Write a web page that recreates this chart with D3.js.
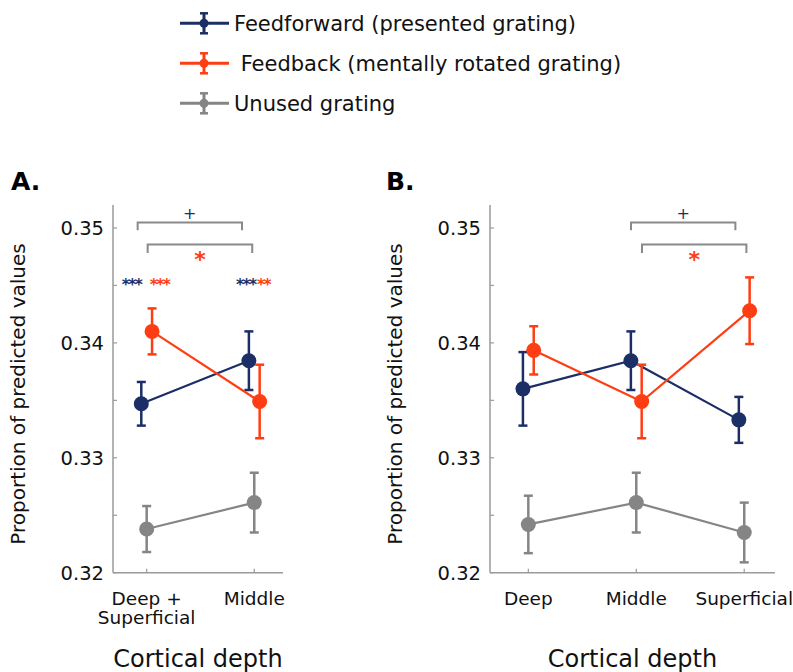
<!DOCTYPE html>
<html>
<head>
<meta charset="utf-8">
<script src="https://cdn.jsdelivr.net/npm/d3@7"></script>
<style>
  body { margin: 0; background: #fff; }
  svg { display: block; font-family: "DejaVu Sans", sans-serif; }
</style>
</head>
<body>
<svg width="793" height="672"></svg>
<script>
// ---- data ----
var seriesNames = ['Feedforward (presented grating)', ' Feedback (mentally rotated grating)', 'Unused grating'];
var seriesColors = ['#1b2f66', '#ff3d12', '#858585'];
var seriesOffset = [-0.05, 0.05, 0];

var depthsA = [['Deep +', 'Superficial'], ['Middle']];
var ffA = [0.3347, 0.33845], ffErrA = [0.0019, 0.00255];
var fbA = [0.3410, 0.3349], fbErrA = [0.0020, 0.0032];
var unA = [0.3238, 0.3261], unErrA = [0.0020, 0.0026];

var depthsB = [['Deep'], ['Middle'], ['Superficial']];
var ffB = [0.3360, 0.33845, 0.3333], ffErrB = [0.0032, 0.00255, 0.0020];
var fbB = [0.33935, 0.3349, 0.3428], fbErrB = [0.0021, 0.0032, 0.0029];
var unB = [0.3242, 0.3261, 0.3235], unErrB = [0.0025, 0.0026, 0.0026];

var yTicks = [0.32, 0.33, 0.34, 0.35];
var yMinorTicks = [0.325, 0.335, 0.345];

// significance marks per panel
var starsA = [
    { x: 0.86, y: 0.34537, text: '***', c: 0 },
    { x: 1.12, y: 0.34537, text: '***', c: 1 },
    { x: 1.92, y: 0.34537, text: '***', c: 0 },
    { x: 2.085, y: 0.34537, text: '**', c: 1 }
];
var bracketsA = [
    { x1: 0.916, x2: 1.886, y: 0.35047, leg: 0.3498, mark: '+', c: 0 },
    { x1: 1.009, x2: 1.981, y: 0.34856, leg: 0.34783, mark: '*', c: 1 }
];
var bracketsB = [
    { x1: 1.951, x2: 2.918, y: 0.35047, leg: 0.3498, mark: '+', c: 0 },
    { x1: 2.053, x2: 3.020, y: 0.34856, leg: 0.34783, mark: '*', c: 1 }
];

var svg = d3.select('svg');
var axisColor = '#9a9a9a';
var plotTop = 205, plotBottom = 572.7;

function drawPanel(opts) {
    var x = d3.scaleLinear().domain(opts.xDomain).range(opts.xRange);
    var y = d3.scaleLinear().domain([0.32, 0.352]).range([plotBottom, plotTop]);
    var g = svg.append('g');

    // axes lines
    g.append('line').attr('x1', opts.xRange[0]).attr('x2', opts.xRange[0])
        .attr('y1', plotTop).attr('y2', plotBottom)
        .attr('stroke', axisColor).attr('stroke-width', 1.5);
    g.append('line').attr('x1', opts.xRange[0]).attr('x2', opts.xRange[1])
        .attr('y1', plotBottom).attr('y2', plotBottom)
        .attr('stroke', axisColor).attr('stroke-width', 1.5);

    // y ticks (inward)
    g.selectAll('.yt').data(yTicks.concat(yMinorTicks)).enter().append('line')
        .attr('x1', opts.xRange[0]).attr('x2', opts.xRange[0] + 4)
        .attr('y1', function (d) { return y(d); }).attr('y2', function (d) { return y(d); })
        .attr('stroke', axisColor).attr('stroke-width', 1.2);
    g.selectAll('.yl').data(yTicks).enter().append('text')
        .attr('x', opts.xRange[0] - 9)
        .attr('y', function (d) { return y(d) + 7; })
        .attr('text-anchor', 'end')
        .attr('font-size', 19.5)
        .attr('fill', '#111')
        .text(function (d) { return d.toFixed(2); });

    // x ticks
    var idx = opts.labels.map(function (d, i) { return i + 1; });
    g.selectAll('.xt').data(idx).enter().append('line')
        .attr('x1', function (d) { return x(d); }).attr('x2', function (d) { return x(d); })
        .attr('y1', plotBottom).attr('y2', plotBottom - 4)
        .attr('stroke', axisColor).attr('stroke-width', 1.2);
    var xl = g.selectAll('.xl').data(opts.labels).enter().append('text')
        .attr('text-anchor', 'middle')
        .attr('font-size', 18.5)
        .attr('fill', '#111');
    xl.each(function (lines, i) {
        d3.select(this).selectAll('tspan').data(lines).enter().append('tspan')
            .attr('x', x(i + 1))
            .attr('y', function (d, j) { return 605 + j * 18.5; })
            .text(function (d) { return d; });
    });

    // axis titles
    g.append('text')
        .attr('x', (opts.xRange[0] + opts.xRange[1]) / 2).attr('y', 667)
        .attr('text-anchor', 'middle').attr('font-size', 24).attr('fill', '#111')
        .text('Cortical depth');
    g.append('text')
        .attr('transform', 'translate(' + opts.yLabelX + ',394) rotate(-90)')
        .attr('text-anchor', 'middle').attr('font-size', 20).attr('fill', '#111')
        .text('Proportion of predicted values');

    // panel letter
    g.append('text')
        .attr('x', opts.letterX).attr('y', 190)
        .attr('font-size', 25).attr('font-weight', 'bold').attr('fill', '#000')
        .text(opts.letter);

    // series: gray first, then blue, orange on top
    var order = [2, 0, 1];
    order.forEach(function (s) {
        var vals = opts.values[s], errs = opts.errors[s];
        var pts = vals.map(function (v, i) {
            return { x: i + 1 + seriesOffset[s], v: v, e: errs[i] };
        });
        var c = seriesColors[s];
        var line = d3.line()
            .x(function (d) { return x(d.x); })
            .y(function (d) { return y(d.v); });
        g.append('path').datum(pts).attr('d', line)
            .attr('fill', 'none').attr('stroke', c).attr('stroke-width', 2.2);
        var eb = g.selectAll(null).data(pts).enter().append('g');
        eb.append('line')
            .attr('x1', function (d) { return x(d.x); }).attr('x2', function (d) { return x(d.x); })
            .attr('y1', function (d) { return y(d.v - d.e); }).attr('y2', function (d) { return y(d.v + d.e); })
            .attr('stroke', c).attr('stroke-width', 2.5);
        [-1, 1].forEach(function (sign) {
            eb.append('line')
                .attr('x1', function (d) { return x(d.x) - 4.5; }).attr('x2', function (d) { return x(d.x) + 4.5; })
                .attr('y1', function (d) { return y(d.v + sign * d.e); }).attr('y2', function (d) { return y(d.v + sign * d.e); })
                .attr('stroke', c).attr('stroke-width', 2.5);
        });
        eb.append('circle')
            .attr('cx', function (d) { return x(d.x); }).attr('cy', function (d) { return y(d.v); })
            .attr('r', 7.5).attr('fill', c);
    });

    // brackets
    opts.brackets.forEach(function (b) {
        g.append('path')
            .attr('d', 'M' + x(b.x1) + ',' + y(b.leg) + 'V' + y(b.y) + 'H' + x(b.x2) + 'V' + y(b.leg))
            .attr('fill', 'none').attr('stroke', '#8a8a8a').attr('stroke-width', 2);
        var mx = (x(b.x1) + x(b.x2)) / 2;
        if (b.mark === '+') {
            g.append('text').attr('x', mx).attr('y', y(b.y) - 3.5)
                .attr('text-anchor', 'middle').attr('font-size', 16)
                .attr('fill', seriesColors[b.c]).text('+');
        } else {
            g.append('text').attr('x', mx).attr('y', y(b.y) + 22)
                .attr('text-anchor', 'middle').attr('font-size', 22).attr('font-weight', 'bold')
                .attr('fill', seriesColors[b.c]).text('*');
        }
    });

    // stars
    (opts.stars || []).forEach(function (s) {
        g.append('text').attr('x', x(s.x)).attr('y', y(s.y) + 9)
            .attr('text-anchor', 'middle').attr('font-size', 15.5).attr('font-weight', 'bold')
            .attr('letter-spacing', -1.6)
            .attr('fill', seriesColors[s.c]).text(s.text);
    });
}

drawPanel({
    xDomain: [0.687, 2.267], xRange: [113, 283],
    labels: depthsA,
    values: [ffA, fbA, unA], errors: [ffErrA, fbErrA, unErrA],
    brackets: bracketsA, stars: starsA,
    yLabelX: 25, letter: 'A.', letterX: 11
});
drawPanel({
    xDomain: [0.645, 3.285], xRange: [490, 775],
    labels: depthsB,
    values: [ffB, fbB, unB], errors: [ffErrB, fbErrB, unErrB],
    brackets: bracketsB,
    yLabelX: 401.5, letter: 'B.', letterX: 386
});

// legend
var legend = svg.append('g');
var rowY = [23.3, 63.3, 103.3];
seriesNames.forEach(function (name, i) {
    var c = seriesColors[i];
    var row = legend.append('g').attr('transform', 'translate(0,' + rowY[i] + ')');
    row.append('line').attr('x1', 180).attr('x2', 229).attr('y1', 0).attr('y2', 0)
        .attr('stroke', c).attr('stroke-width', 3);
    row.append('line').attr('x1', 204).attr('x2', 204).attr('y1', -10).attr('y2', 10)
        .attr('stroke', c).attr('stroke-width', 3);
    [-10, 10].forEach(function (yy) {
        row.append('line').attr('x1', 200).attr('x2', 208).attr('y1', yy).attr('y2', yy)
            .attr('stroke', c).attr('stroke-width', 2.5);
    });
    row.append('circle').attr('cx', 204).attr('cy', 0).attr('r', 4.5).attr('fill', c);
    row.append('text').attr('x', 234).attr('y', 7.5)
        .attr('font-size', 21).attr('fill', '#111')
        .attr('xml:space', 'preserve').style('white-space', 'pre')
        .text(name);
});
</script>
</body>
</html>
